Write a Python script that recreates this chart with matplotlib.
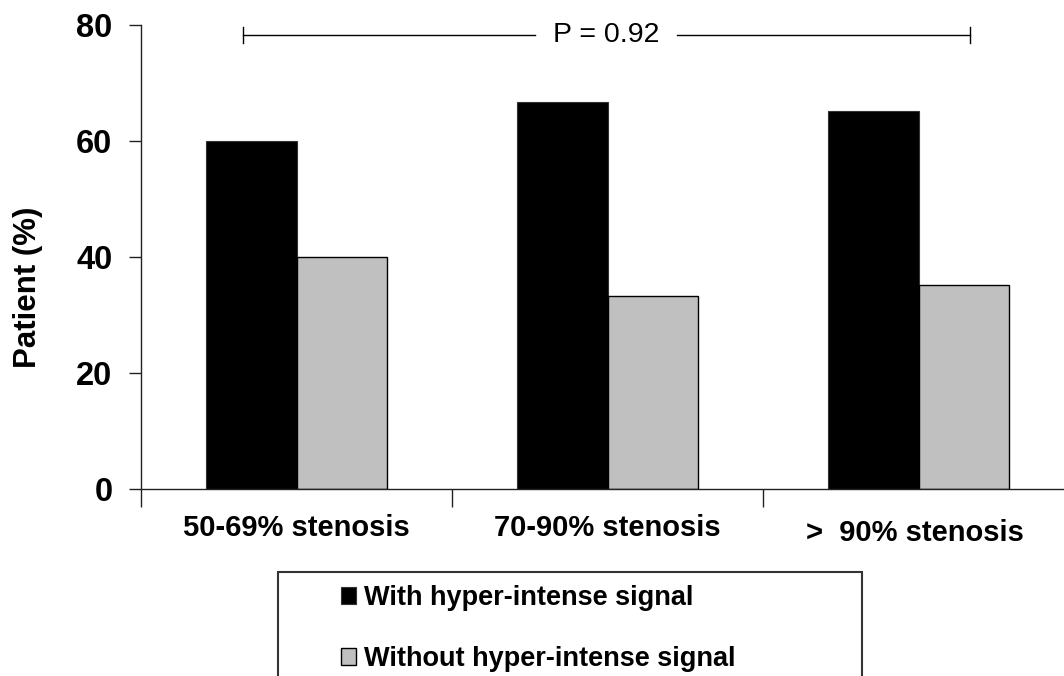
import matplotlib
matplotlib.use("Agg")
import matplotlib.pyplot as plt
import numpy as np
from matplotlib.patches import Rectangle
from matplotlib.transforms import ScaledTranslation

plt.rcParams['font.family'] = ['Liberation Sans', 'DejaVu Sans']

# data
categories = ["50-69% stenosis", "70-90% stenosis", ">  90% stenosis"]
with_signal = [60.0, 66.8, 65.1]
without_signal = [40.0, 33.3, 35.2]
series_names = ["With hyper-intense signal", "Without hyper-intense signal"]
p_text = "P = 0.92"
# bracket over all groups (category units / percent)
p_left, p_right = -0.172, 2.166
p_gap_left, p_gap_right = 0.767, 1.223
p_y = 78.3

W, H = 1064, 676
fig = plt.figure(figsize=(W / 100, H / 100), dpi=100)
ax = fig.add_axes([141 / W, 1 - 489 / H, 933 / W, 464 / H])

x = np.arange(len(categories))
bw = 0.29
b1 = ax.bar(x - bw / 2, with_signal, bw, color="black", edgecolor="#333333", linewidth=0.8)
b2 = ax.bar(x + bw / 2, without_signal, bw, color="#c0c0c0", edgecolor="black", linewidth=1.0)

ax.set_xlim(-0.5, len(categories) - 0.5)
ax.set_ylim(0, 80)
ax.set_yticks([0, 20, 40, 60, 80])
ax.spines["top"].set_visible(False)
ax.spines["right"].set_visible(False)
for s in ["left", "bottom"]:
    ax.spines[s].set_linewidth(1.0)
    ax.spines[s].set_color("#222222")

ax.set_xticks(x)
ax.set_xticklabels(categories, fontsize=21, fontweight="bold")
ax.set_xticks(np.arange(len(categories) + 1) - 0.5, minor=True)
ax.tick_params(axis="x", which="major", length=0, pad=18)
ax.tick_params(axis="x", which="minor", length=13, width=1.0, color="#222222", direction="out")
ax.tick_params(axis="y", length=8.6, width=1.0, color="#222222", pad=12, labelsize=23.5)
for lab in ax.get_yticklabels():
    lab.set_fontweight("bold")
# last category label sits a bit lower in the original
last = ax.get_xticklabels()[-1]
last.set_transform(last.get_transform() + ScaledTranslation(-0.04, -0.05, fig.dpi_scale_trans))

fig.text(28.5 / W, 1 - 287 / H, "Patient (%)", rotation=90, ha="center", va="center",
         fontsize=22.5, fontweight="bold")

# P-value bracket
lk = dict(color="black", linewidth=1.0, clip_on=False)
ax.plot([p_left, p_gap_left], [p_y, p_y], **lk)
ax.plot([p_gap_right, p_right], [p_y, p_y], **lk)
ax.plot([p_left, p_left], [p_y - 1.4, p_y + 1.4], **lk)
ax.plot([p_right, p_right], [p_y - 1.4, p_y + 1.4], **lk)
ax.text((p_gap_left + p_gap_right) / 2, p_y, p_text, ha="center", va="center", fontsize=20.5)

# legend box (runs off the bottom of the figure)
fig.patches.append(Rectangle((278 / W, -0.05), (862 - 278) / W, 0.05 + 1 - 572 / H,
                             transform=fig.transFigure, fill=False, edgecolor="#333333",
                             linewidth=1.5))
leg = fig.legend([b1, b2], series_names, loc="upper left",
                 bbox_to_anchor=(341 / W, 1 - 585 / H), frameon=False,
                 prop={"size": 19.5, "weight": "bold"}, handlelength=0.55, handleheight=0.55,
                 handletextpad=0.3, labelspacing=1.3, borderpad=0, borderaxespad=0)

fig.savefig("out.png", dpi=100)
